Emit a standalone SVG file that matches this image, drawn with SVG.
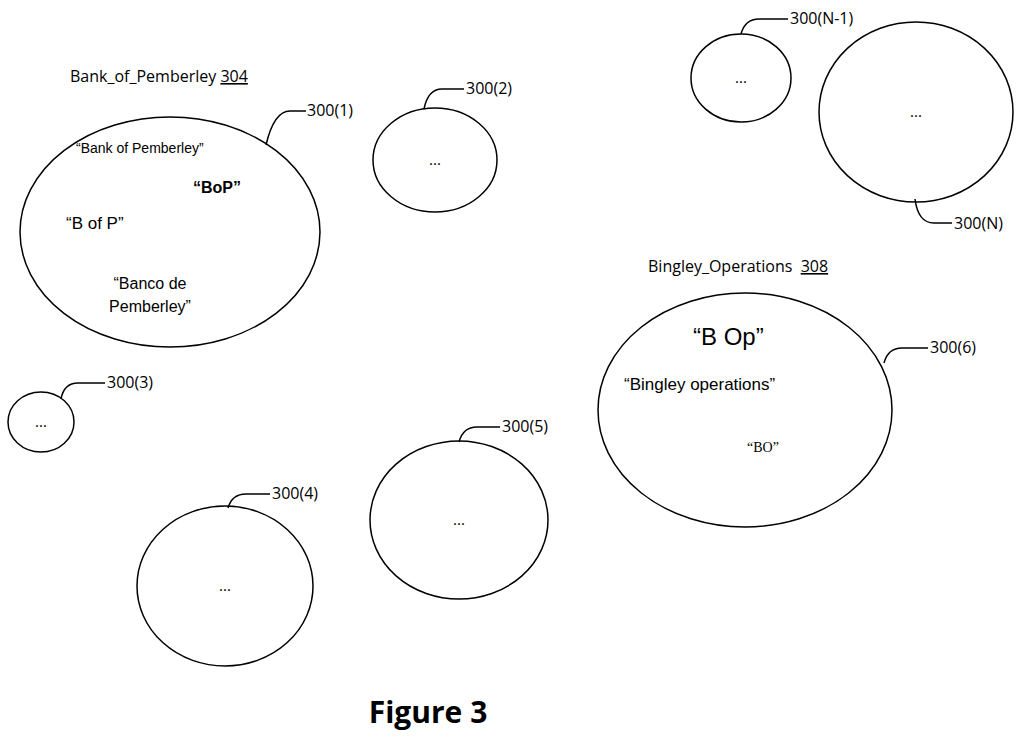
<svg xmlns="http://www.w3.org/2000/svg" width="1024" height="737" viewBox="0 0 1024 737">
<style>
.n{fill:none;stroke:#000;stroke-width:1.5}
.l{fill:none;stroke:#000;stroke-width:1.5}
text{font-family:"Open Sans","Liberation Sans",sans-serif;fill:#000}
.a{font-family:"Liberation Sans",Arial,sans-serif}
.lb{font-size:16px}
.d{font-size:15px;text-anchor:middle}
</style>
<rect width="1024" height="737" fill="#fff"/>
<g id="node1"><ellipse class="n" cx="170" cy="232" rx="150" ry="115"/>
<text class="a" x="76" y="153" font-size="14">“Bank of Pemberley”</text>
<text class="a" x="193" y="193" font-size="16" font-weight="bold">“BoP”</text>
<text class="a" x="66" y="229" font-size="17">“B of P”</text>
<text class="a" x="150" y="289" font-size="16" text-anchor="middle">“Banco de</text>
<text class="a" x="150" y="312" font-size="16" text-anchor="middle">Pemberley”</text></g>
<g id="node2"><ellipse class="n" cx="435" cy="160" rx="62" ry="52"/><text class="d" x="435" y="165">...</text></g>
<g id="node3"><ellipse class="n" cx="41" cy="422" rx="33" ry="30"/><text class="d" x="41" y="427">...</text></g>
<g id="node4"><ellipse class="n" cx="225" cy="586" rx="88" ry="80"/><text class="d" x="225" y="591">...</text></g>
<g id="node5"><ellipse class="n" cx="459" cy="520" rx="89" ry="79"/><text class="d" x="459" y="525">...</text></g>
<g id="node6"><ellipse class="n" cx="745" cy="410" rx="147" ry="117"/>
<text class="a" x="693" y="345" font-size="24">“B Op”</text>
<text class="a" x="624" y="390" font-size="17">“Bingley operations”</text>
<text x="763" y="452" font-size="14" text-anchor="middle" style="font-family:'Liberation Serif',serif">“BO”</text></g>
<g id="nodeN1"><ellipse class="n" cx="741" cy="78" rx="50" ry="44"/><text class="d" x="741" y="83">...</text></g>
<g id="nodeN"><ellipse class="n" cx="916" cy="112" rx="97" ry="90"/><text class="d" x="916" y="117">...</text></g>
<g id="connectors">
<path class="l" d="M266,145 Q274,111 290,111 L306,111"/>
<path class="l" d="M424,109 Q428,89 442,89 L464,89"/>
<path class="l" d="M61,399 Q64,383 78,383 L105,383"/>
<path class="l" d="M228,508 Q232,494 246,494 L270,494"/>
<path class="l" d="M459,442 Q463,427 477,427 L500,427"/>
<path class="l" d="M884,363 Q888,348 902,348 L928,348"/>
<path class="l" d="M741,34 Q745,19 759,19 L788,19"/>
<path class="l" d="M915,199 Q918,223 934,223 L952,223"/>
</g>
<g id="labels">
<text class="lb" x="307" y="116">300(1)</text>
<text class="lb" x="466" y="94">300(2)</text>
<text class="lb" x="107" y="388">300(3)</text>
<text class="lb" x="272" y="499">300(4)</text>
<text class="lb" x="502" y="432">300(5)</text>
<text class="lb" x="930" y="353">300(6)</text>
<text class="lb" x="790" y="24">300(N-1)</text>
<text class="lb" x="954" y="229">300(N)</text>
<text class="lb" x="70" y="82">Bank_of_Pemberley <tspan text-decoration="underline">304</tspan></text>
<text class="lb" x="648" y="272" xml:space="preserve">Bingley_Operations  <tspan text-decoration="underline">308</tspan></text>
<text x="428" y="723" font-size="30" font-weight="bold" text-anchor="middle">Figure 3</text>
</g>
</svg>
